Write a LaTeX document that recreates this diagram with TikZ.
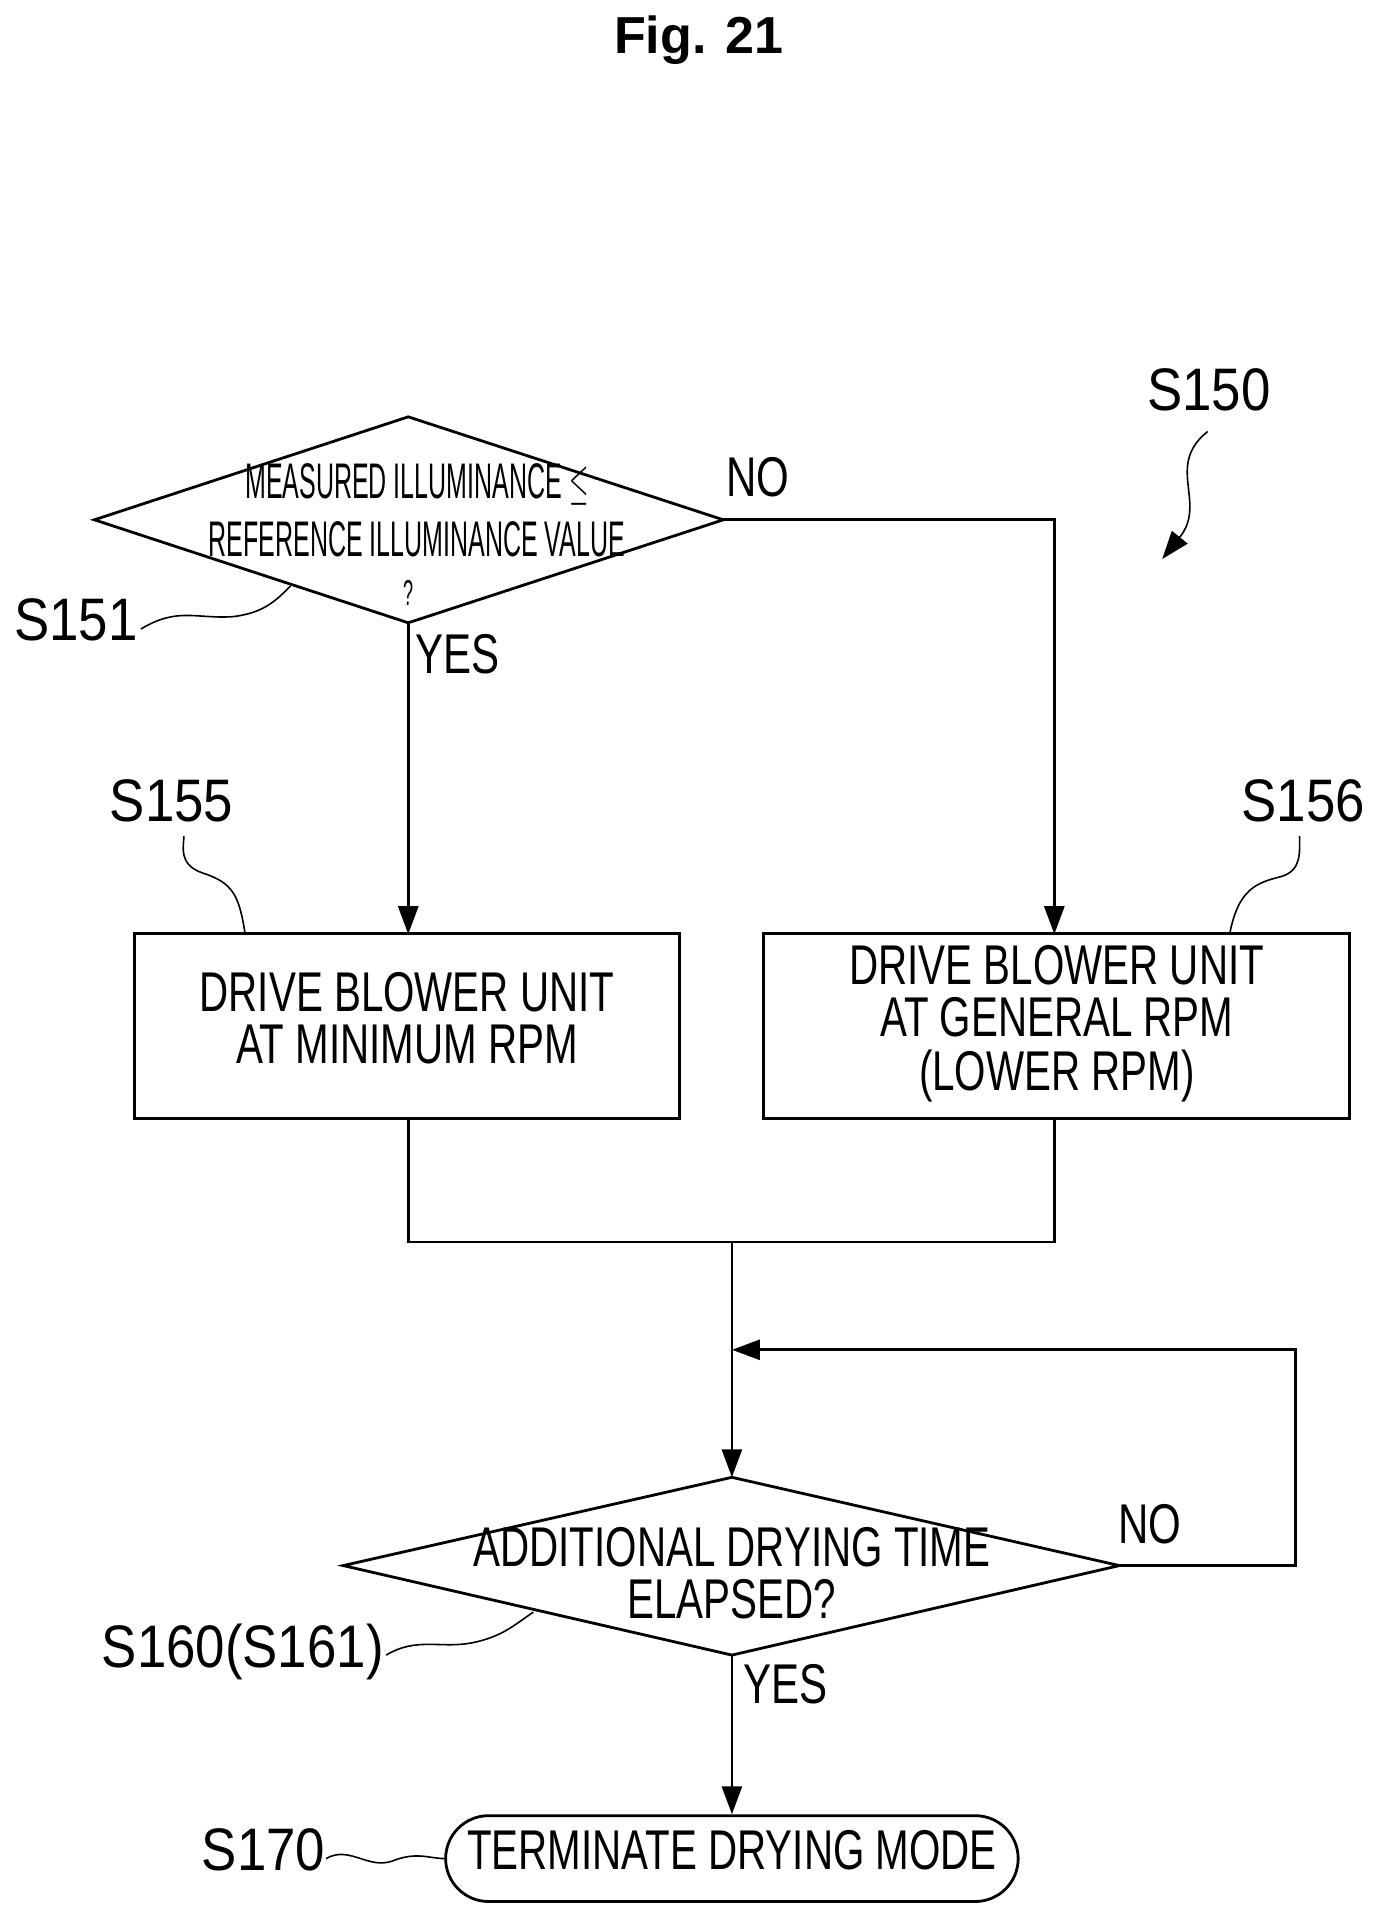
\documentclass[tikz,border=0pt]{standalone}
\usepackage{fontspec}
\setmainfont{Liberation Sans}
\usetikzlibrary{arrows.meta}
\newcommand{\T}[3]{\fontsize{#2}{#2}\selectfont\scalebox{#1}[1]{\begin{tabular}{@{}c@{}}#3\end{tabular}}}
\begin{document}
\begin{tikzpicture}[x=0.6128pt,y=-0.6128pt,line width=1.4pt,
  lbl/.style={inner sep=0},
  arr/.style={-{Triangle[length=14pt,width=10pt]}},
  lead/.style={line width=0.8pt}]
\useasboundingbox (0,0) rectangle (1130,1571);
\node[lbl] (title) at (570,35) {\bfseries\T{1}{26}{Fig. 21}};
% diamond 1
\coordinate (d1l) at (77,424); \coordinate (d1t) at (333,340);
\coordinate (d1r) at (590,424); \coordinate (d1b) at (333,508);
\draw (d1l)--(d1t)--(d1r)--(d1b)--cycle;
\node[lbl] (d1txt) at (340,422) {\T{0.5}{25}{MEASURED ILLUMINANCE $\leq$\\[4pt]REFERENCE ILLUMINANCE VALUE}};
\node[lbl] (q) at (333,488) {\T{0.5}{18}{?}};
% boxes
\node[draw,minimum width=444*0.6128pt,minimum height=151*0.6128pt,inner sep=0] (b1) at (332,837) {\T{0.72}{28}{DRIVE BLOWER UNIT\\[-2pt]AT MINIMUM RPM}};
\node[draw,minimum width=478*0.6128pt,minimum height=151*0.6128pt,inner sep=0] (b2) at (862,837) {\T{0.72}{28}{DRIVE BLOWER UNIT\\[-2pt]AT GENERAL RPM\\[-2pt](LOWER RPM)}};
\draw[arr] (d1b) -- (333,762);
\draw[arr] (d1r) -- (860,424) -- (860,762);
\node[lbl] (no1) at (618,396) {\T{0.75}{28}{NO}};
\node[lbl] (yes1) at (373,540) {\T{0.75}{28}{YES}};
% merge
\coordinate (m) at (597,1013);
\draw (333,913) -- (333,1013) -- (860,1013) -- (860,913);
% diamond 2
\coordinate (d2l) at (280,1277); \coordinate (d2t) at (597,1205);
\coordinate (d2r) at (913,1277); \coordinate (d2b) at (597,1350);
\draw (d2l)--(d2t)--(d2r)--(d2b)--cycle;
\node[lbl] (d2txt) at (597,1290) {\T{0.72}{28}{ADDITIONAL DRYING TIME\\[-2pt]ELAPSED?}};
\draw[arr] (m) -- (d2t);
\coordinate (lp) at (1057,1101);
\draw[arr] (d2r) -- (1057,1277) -- (lp) -- (597,1101);
\node[lbl] (no2) at (938,1250) {\T{0.75}{28}{NO}};
\node[lbl] (yes2) at (641,1380) {\T{0.75}{28}{YES}};
% terminator
\node[draw,rounded corners=35*0.6128pt,minimum width=467*0.6128pt,minimum height=70*0.6128pt,inner sep=0] (term) at (597,1516) {\T{0.72}{28}{TERMINATE DRYING MODE}};
\draw[arr] (d2b) -- (term.north);
% labels
\node[lbl] (s150) at (986,325) {\T{0.88}{30}{S150}};
\node[lbl] (s151) at (62,513) {\T{0.88}{30}{S151}};
\node[lbl] (s155) at (140,660) {\T{0.88}{30}{S155}};
\node[lbl] (s156) at (1063,660) {\T{0.88}{30}{S156}};
\node[lbl] (s160) at (198,1350) {\T{0.88}{30}{S160(S161)}};
\node[lbl] (s170) at (215,1516) {\T{0.88}{30}{S170}};
% leaders
\draw[lead,-{Triangle[length=14pt,width=10pt]}] (985,352) .. controls (950,380) and (985,410) .. (948,456);
\draw[lead] (115,513) .. controls (145,495) and (160,505) .. (190,503) .. controls (215,500) and (225,490) .. (237,478);
\draw[lead] (200,762) .. controls (195,730) and (190,720) .. (165,712) .. controls (145,705) and (150,690) .. (150,682);
\draw[lead] (1003,762) .. controls (1010,725) and (1025,720) .. (1045,715) .. controls (1062,710) and (1060,695) .. (1060,682);
\draw[lead] (315,1350) .. controls (340,1335) and (360,1345) .. (385,1340) .. controls (410,1335) and (420,1325) .. (435,1315);
\draw[lead] (266,1516) .. controls (285,1505) and (300,1525) .. (320,1518) .. controls (340,1510) and (350,1516) .. (363,1516);
\end{tikzpicture}
\end{document}
